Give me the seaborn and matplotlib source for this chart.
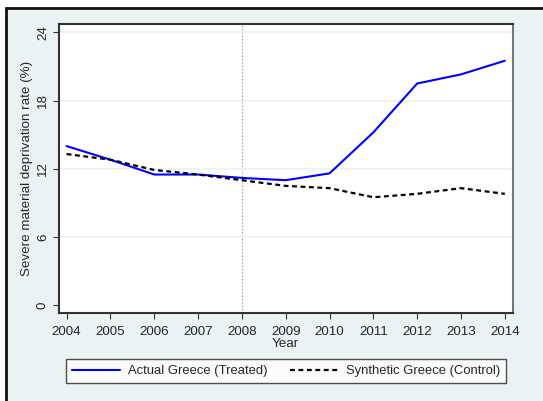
import matplotlib
matplotlib.use("Agg")
import matplotlib.pyplot as plt
import seaborn as sns
import pandas as pd
from matplotlib.patches import Rectangle

years = [2004, 2005, 2006, 2007, 2008, 2009, 2010, 2011, 2012, 2013, 2014]
actual = [14.0, 12.8, 11.5, 11.5, 11.2, 11.0, 11.6, 15.2, 19.5, 20.3, 21.5]
synthetic = [13.3, 12.8, 11.9, 11.5, 11.0, 10.5, 10.3, 9.5, 9.8, 10.3, 9.8]
yticks = [0, 6, 12, 18, 24]
label_actual = "Actual Greece (Treated)"
label_synth = "Synthetic Greece (Control)"

sns.set_theme(style="white")
plt.rcParams['font.family'] = ['Liberation Sans', 'DejaVu Sans']

FS = 9.6
LFS = 9.35
bg = "#EAF2F3"
fig = plt.figure(figsize=(5.43, 4.01), dpi=100)
fig.patch.set_facecolor("white")
# outer Stata-like frame
fig.patches.append(Rectangle((6/543, -0.1), 1.2, 1 - 8/401 + 0.1, transform=fig.transFigure,
                             facecolor=bg, edgecolor="#111111", linewidth=2.0, zorder=-10))

ax = fig.add_axes([58.7/543, 1 - 313.3/401, 454/543, (313.3 - 24)/401])
ax.set_facecolor("white")

df = pd.DataFrame({"Year": years, "actual": actual, "synthetic": synthetic})
sns.lineplot(data=df, x="Year", y="actual", ax=ax, color="#0000FF", linewidth=1.5,
             label=label_actual, legend=False)
sns.lineplot(data=df, x="Year", y="synthetic", ax=ax, color="black", linewidth=1.6,
             linestyle=(0, (2.2, 1.6)), label=label_synth, legend=False)

ax.axvline(2008, color="#888888", linestyle=(0, (1, 2)), linewidth=0.8, zorder=0)
for t in yticks[1:]:
    ax.axhline(t, color=bg, linewidth=1.2, zorder=0)

ax.set_xlim(2003.82, 2014.18)
ax.set_ylim(-0.7, 24.73)
ax.set_xticks(years)
ax.set_xticklabels([str(y) for y in years], fontsize=FS)
ax.set_yticks(yticks)
ax.set_yticklabels([str(t) for t in yticks], fontsize=FS, rotation=90, va="center")
ax.tick_params(axis="both", which="both", length=4, width=0.8, color="#333333",
               direction="out", bottom=True, left=True, pad=3)
ax.tick_params(axis="x", pad=5.5)
ax.set_xlabel("Year", fontsize=FS, labelpad=0)
ax.set_ylabel("Severe material deprivation rate (%)", fontsize=FS, labelpad=3)
for s in ax.spines.values():
    s.set_color("#333333")
    s.set_linewidth(1.5)
ax.spines["right"].set_color("#777777")

handles, labels = ax.get_legend_handles_labels()
leg = fig.legend(handles, labels, loc="center", bbox_to_anchor=(286/543, 1 - 371/401),
                 ncol=2, fontsize=LFS, frameon=True, fancybox=False, edgecolor="#222222",
                 handlelength=3.75, columnspacing=1.7, handletextpad=0.6,
                 borderpad=0.45, borderaxespad=0)
leg.get_frame().set_linewidth(1.0)
leg.get_frame().set_facecolor("white")

fig.savefig("out.png", dpi=100, facecolor=fig.get_facecolor())
